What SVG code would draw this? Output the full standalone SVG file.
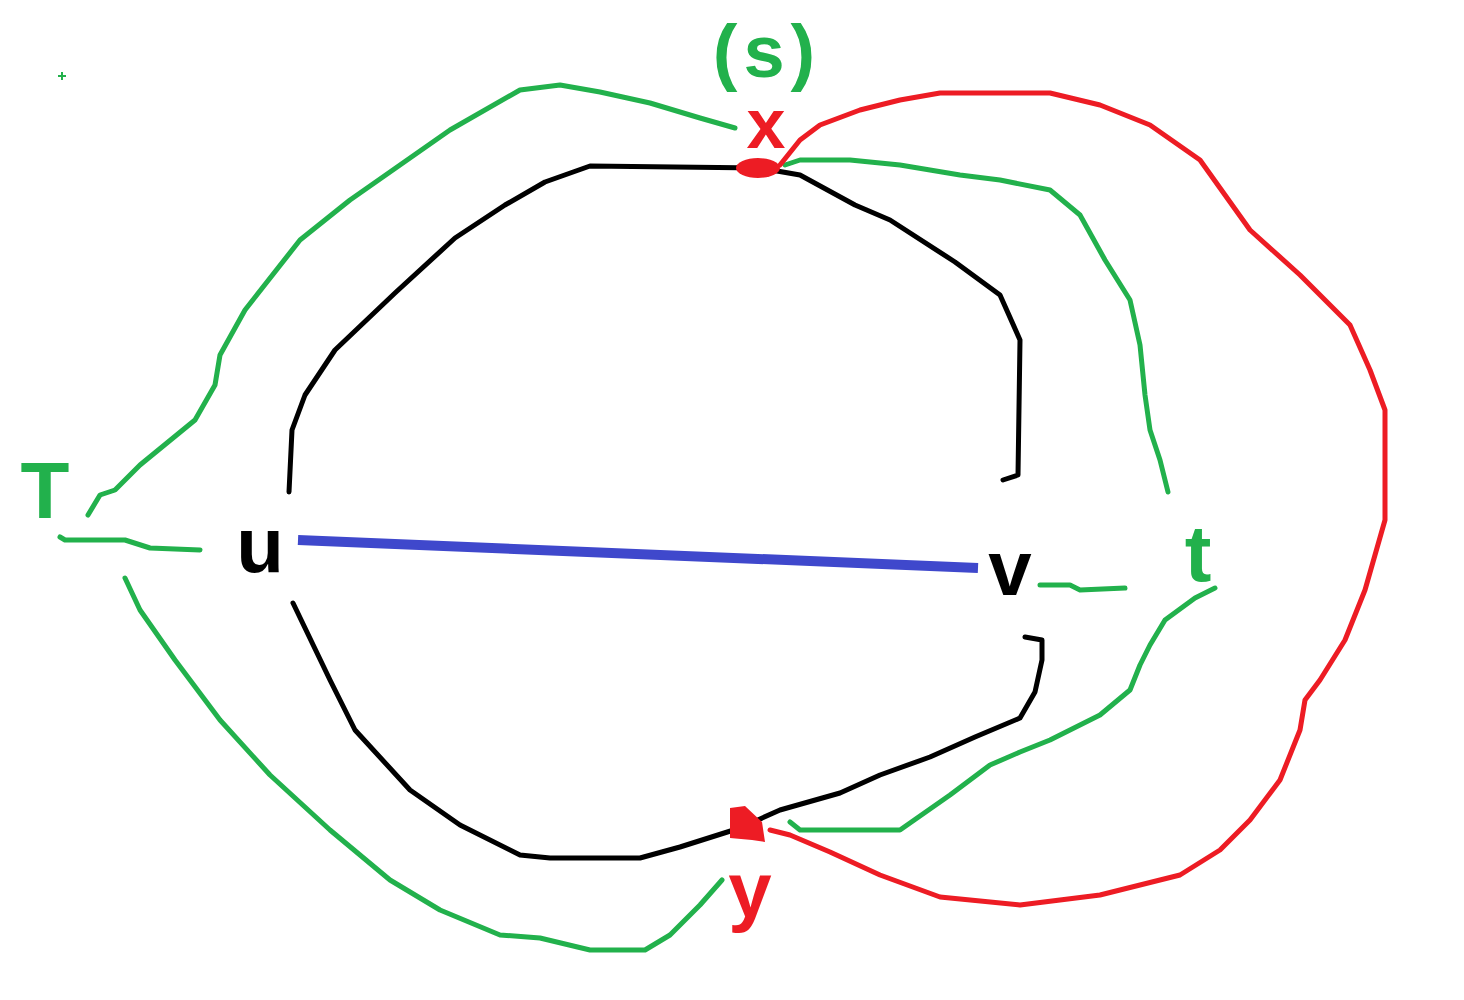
<svg xmlns="http://www.w3.org/2000/svg" width="1464" height="1000" viewBox="0 0 1464 1000">
<style>
.s{fill:none;stroke-width:5;stroke-linejoin:round;stroke-linecap:round}
.g{stroke:#22b14c}.r{stroke:#ed1c24}.k{stroke:#000}
.lbl{font-family:"Liberation Sans",Arial,sans-serif;font-weight:bold;text-anchor:middle}
</style>
<rect width="1464" height="1000" fill="#fff"/>
<g id="connectors">
<path id="cycle-top" class="s k" d="M1003 480 L1018 475 L1020 340 L1000 295 L955 262 L890 220 L855 205 L800 175 L760 168 L590 166 L545 182 L505 205 L455 238 L395 293 L335 350 L305 395 L292 430 L289 492"/>
<path id="cycle-bottom" class="s k" d="M293 603 L330 680 L355 730 L410 790 L460 825 L520 855 L550 858 L640 858 L680 847 L740 828 L780 810 L840 793 L880 775 L930 757 L975 737 L1020 718 L1035 692 L1042 660 L1042 640 L1025 637"/>
<path id="uv" fill="none" stroke="#3f48cc" stroke-width="10" stroke-linecap="butt" d="M298 540 L978 568"/>
<path class="s g" d="M88 515 L100 495 L115 490 L140 465 L195 420 L215 385 L220 355 L245 310 L300 240 L350 200 L400 165 L450 130 L520 90 L560 85 L600 92 L650 103 L700 118 L735 128"/>
<path class="s g" d="M60 537 L65 540 L125 540 L150 548 L200 550"/>
<path class="s g" d="M125 578 L140 610 L175 660 L220 720 L270 775 L330 830 L390 880 L440 910 L500 935 L540 938 L590 950 L645 950 L670 935 L700 905 L722 880"/>
<path class="s g" d="M785 165 L800 160 L850 160 L900 165 L960 175 L1000 180 L1050 190 L1080 215 L1105 260 L1130 300 L1140 345 L1145 395 L1150 430 L1160 460 L1168 492"/>
<path class="s g" d="M1040 585 L1070 585 L1080 590 L1125 588"/>
<path class="s g" d="M1215 588 L1195 598 L1165 620 L1150 645 L1140 665 L1130 690 L1100 715 L1050 740 L1020 752 L990 765 L950 795 L900 830 L800 830 L790 822"/>
<path class="s r" d="M780 165 L800 140 L820 125 L860 110 L900 100 L940 93 L1050 93 L1100 105 L1150 125 L1200 160 L1250 230 L1300 275 L1350 325 L1370 370 L1385 410 L1385 520 L1365 590 L1345 640 L1320 680 L1305 700 L1300 730 L1280 780 L1250 820 L1220 850 L1180 875 L1100 895 L1020 905 L940 897 L880 875 L830 852 L790 835 L770 830"/>
<path d="M62 72 V80 M58 76 H66" stroke="#22b14c" stroke-width="2"/>
</g>
<g id="node-x">
<ellipse cx="758" cy="168" rx="22" ry="10" fill="#ed1c24"/>
<text class="lbl" x="766" y="148" font-size="70" fill="#ed1c24">x</text>
<text class="lbl" x="767" y="77" font-size="74" letter-spacing="6" fill="#22b14c">(s)</text>
</g>
<g id="node-y">
<path d="M730 808 L745 806 L762 822 L765 842 L752 840 L730 838 Z" fill="#ed1c24"/>
<text class="lbl" x="750" y="917" font-size="78" fill="#ed1c24">y</text>
</g>
<g id="node-u"><text class="lbl" x="260" y="572" font-size="78" fill="#000">u</text></g>
<g id="node-v"><text class="lbl" x="1010" y="595" font-size="78" fill="#000">v</text></g>
<g id="node-T"><text class="lbl" x="45" y="518" font-size="80" fill="#22b14c">T</text></g>
<g id="node-t"><text class="lbl" x="1198" y="581" font-size="80" fill="#22b14c">t</text></g>
</svg>
